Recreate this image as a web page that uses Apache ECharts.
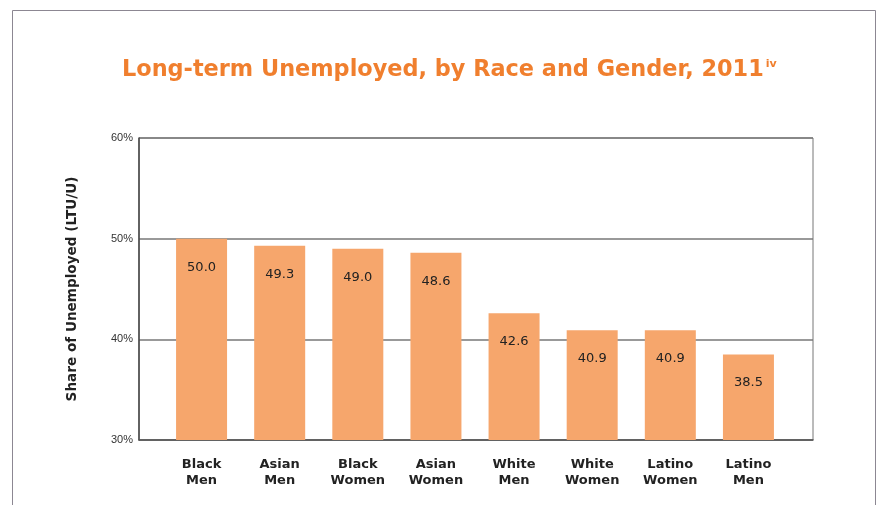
<!DOCTYPE html>
<html>
<head>
<meta charset="utf-8">
<script src="https://cdn.jsdelivr.net/npm/echarts@6/dist/echarts.min.js"></script>
<style>
  html, body { margin: 0; padding: 0; background: #fff; }
  #chart { width: 879px; height: 505px; }
</style>
</head>
<body>
<div id="chart"></div>
<script>
// Long-term unemployed as a share of all unemployed, 2011
const categories = ['Black\nMen', 'Asian\nMen', 'Black\nWomen', 'Asian\nWomen', 'White\nMen', 'White\nWomen', 'Latino\nWomen', 'Latino\nMen'];
const shareValues = [50.0, 49.3, 49.0, 48.6, 42.6, 40.9, 40.9, 38.5];
const yTicks = { min: 30, max: 60, step: 10 };

const chart = echarts.init(document.getElementById('chart'), null, { renderer: 'canvas' });

const barColor = '#F6A66C';
const titleColor = '#F07F2E';

chart.setOption({
  animation: false,
  backgroundColor: '#ffffff',
  textStyle: { fontFamily: 'DejaVu Sans' },
  graphic: [{
    type: 'rect',
    shape: { x: 12.5, y: 10.5, width: 863, height: 520 },
    style: { fill: 'none', stroke: '#8C8792', lineWidth: 1 },
    silent: true
  }],
  title: {
    text: '{t|Long-term Unemployed, by Race and Gender, 2011}{s|iv}',
    left: 117,
    top: 54,
    textStyle: {
      rich: {
        t: { fontFamily: 'DejaVu Sans', fontWeight: 'bold', fontSize: 22.4, color: titleColor },
        s: { fontFamily: 'DejaVu Sans', fontWeight: 'bold', fontSize: 11, color: titleColor, verticalAlign: 'top', padding: [0, 0, 12, 2] }
      }
    }
  },
  grid: [
    // framed plot area with the value scale
    { left: 139, top: 138, width: 674, height: 302, show: true, borderColor: '#777', borderWidth: 1, backgroundColor: 'transparent' },
    // inset band for the bars
    { left: 162.5, top: 138, width: 625, height: 302 }
  ],
  xAxis: [
    { type: 'category', gridIndex: 0, data: categories, show: true,
      axisLine: { show: true, lineStyle: { color: '#555', width: 1.5 } },
      axisTick: { show: false }, axisLabel: { show: false } },
    { type: 'category', gridIndex: 1, data: categories,
      axisLine: { show: false }, axisTick: { show: false },
      axisLabel: { color: '#222', fontFamily: 'DejaVu Sans', fontWeight: 'bold', fontSize: 13, lineHeight: 16, margin: 17, interval: 0 } }
  ],
  yAxis: [
    { type: 'value', gridIndex: 0, min: yTicks.min, max: yTicks.max, interval: yTicks.step,
      name: 'Share of Unemployed (LTU/U)', nameLocation: 'middle', nameGap: 60, nameRotate: 90,
      nameTextStyle: { color: '#222', fontFamily: 'DejaVu Sans', fontWeight: 'bold', fontSize: 13.6 },
      axisLine: { show: true, lineStyle: { color: '#444', width: 1.5 } },
      axisTick: { show: false },
      axisLabel: { formatter: '{value}%', color: '#333', fontFamily: 'Liberation Sans', fontSize: 11, margin: 6 },
      splitLine: { show: true, lineStyle: { color: '#777', width: 1.5 } } },
    { type: 'value', gridIndex: 1, min: yTicks.min, max: yTicks.max, interval: yTicks.step, show: false,
      splitLine: { show: false } }
  ],
  series: [{
    type: 'bar',
    xAxisIndex: 1,
    yAxisIndex: 1,
    data: shareValues,
    barWidth: 51,
    itemStyle: { color: barColor },
    label: {
      show: true,
      position: 'insideTop',
      distance: 22,
      formatter: p => p.value.toFixed(1),
      color: '#222',
      fontFamily: 'DejaVu Sans',
      fontSize: 13
    }
  }]
});
</script>
</body>
</html>
